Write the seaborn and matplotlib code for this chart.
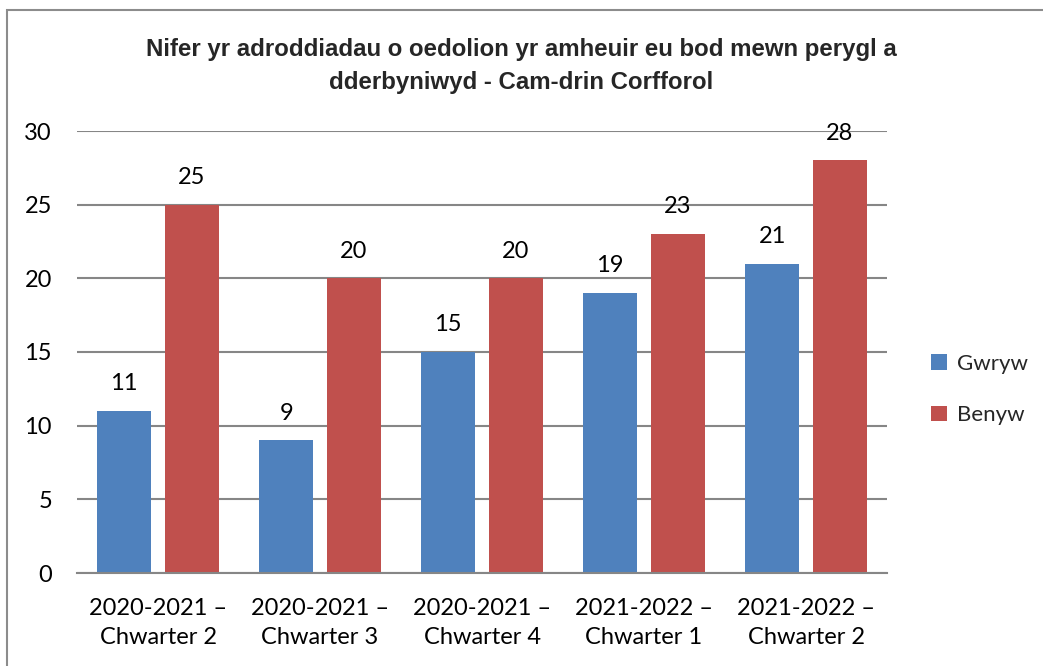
import numpy as np
import pandas as pd
import seaborn as sns
import matplotlib.pyplot as plt
from matplotlib.patches import Rectangle

categories = ["2020-2021 –\nChwarter 2", "2020-2021 –\nChwarter 3", "2020-2021 –\nChwarter 4",
              "2021-2022 –\nChwarter 1", "2021-2022 –\nChwarter 2"]
gwryw = [11, 9, 15, 19, 21]
benyw = [25, 20, 20, 23, 28]
series_names = ["Gwryw", "Benyw"]
colors = ["#4F81BD", "#C0504D"]
title = "Nifer yr adroddiadau o oedolion yr amheuir eu bod mewn perygl a\ndderbyniwyd - Cam-drin Corfforol"

df = pd.DataFrame({
    "cat": categories * 2,
    "value": gwryw + benyw,
    "series": [series_names[0]] * 5 + [series_names[1]] * 5,
})

sns.set_style("white")
plt.rcParams["font.family"] = ["Lato", "DejaVu Sans"]

fig = plt.figure(figsize=(10.43, 6.66), dpi=100)
ax = fig.add_axes([77 / 1043, 1 - 573 / 666, 810 / 1043, 442 / 666])

sns.barplot(data=df, x="cat", y="value", hue="series", palette=colors,
            width=0.833, gap=0.2, ax=ax, legend=True, saturation=1, linewidth=0)

for c in ax.containers:
    ax.bar_label(c, padding=12, fontsize=17, color="black")

ax.set_ylim(0, 30)
ax.set_yticks(range(0, 31, 5))
ax.set_xlim(-0.5, 4.5)
ax.yaxis.grid(True, color="#868686", linewidth=1.5)
ax.set_axisbelow(True)
for s in ["top", "right", "left"]:
    ax.spines[s].set_visible(False)
ax.spines["bottom"].set_color("#868686")
ax.spines["bottom"].set_linewidth(1.5)
ax.tick_params(axis="both", length=0, labelsize=17, colors="black")
ax.tick_params(axis="y", pad=18)
ax.tick_params(axis="x", pad=18)
for t in ax.get_xticklabels():
    t.set_linespacing(1.5)
ax.set_xlabel("")
ax.set_ylabel("")

leg = ax.legend(loc="center left", bbox_to_anchor=(1.03, 0.415), frameon=False,
                fontsize=16, handlelength=0.7, handleheight=0.7, labelspacing=1.4,
                handletextpad=0.45)

fig.text(0.5, 1 - 66 / 666, title, ha="center", va="center", fontsize=17.3,
         fontweight="bold", family=["Liberation Sans Narrow", "Liberation Sans", "DejaVu Sans"],
         linespacing=1.6)

fig.patches.append(Rectangle((7 / 1043, -0.1), 1.2, 1 - 10 / 666 + 0.1, transform=fig.transFigure,
                             fill=False, edgecolor="#8c8c8c", linewidth=1.5))

fig.savefig("out.png", dpi=100)
